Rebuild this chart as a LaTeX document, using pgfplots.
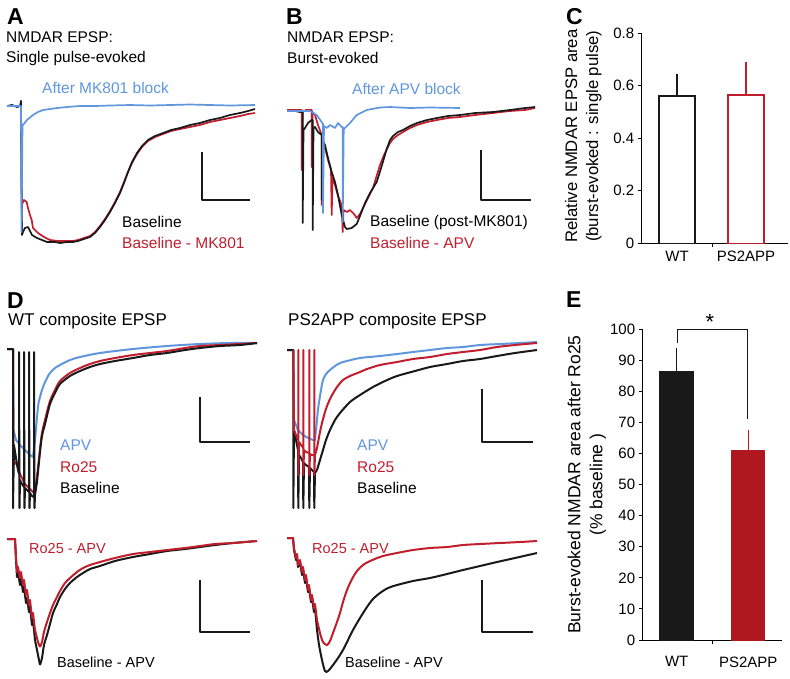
\documentclass[border=0pt]{standalone}
\usepackage{pgfplots}
\pgfplotsset{compat=1.18}
\usepackage{fontspec}
\setmainfont{Liberation Sans}
\definecolor{tblue}{RGB}{95,150,222}
\definecolor{tred}{RGB}{192,30,45}
\definecolor{tblk}{RGB}{25,25,25}
\definecolor{ered}{RGB}{175,24,30}
\newcommand{\lab}{\fontsize{15.5}{19}\selectfont}
\newcommand{\labd}{\fontsize{15.5}{18}\selectfont}
\newcommand{\labs}{\fontsize{14.5}{17}\selectfont}
\begin{document}
\begin{tikzpicture}
\useasboundingbox (0,0) rectangle (790pt,-679pt);
% ---------------- trace canvas (pixel-like units) ----------------
\begin{axis}[at={(0pt,0pt)}, anchor=north west, x=1pt, y=1pt, y dir=reverse,
  xmin=0, xmax=790, ymin=0, ymax=679, hide axis, clip=false,
  every axis plot/.append style={line width=1.7pt, line join=round}]
% ===== Panel A =====
\addplot[tred] coordinates {(7,106)(20,106)(21,101)(21.7,208)(22.5,203)(24,200)(26.7,202)(28,208)(30,215)(31.7,220)(33,228)(38,233)(44,237)(50,240)(58,241)(67,241)(73,241)(78,240)(84,238)(90,236)(95,232)(100,226)(105,219)(110,211)(115,202)(120,192)(124,182)(128,172)(132,163)(137,154)(142,147)(148,141)(155,137)(163,134)(171,131)(180,129)(190,127)(200,125)(210,122)(220,120)(230,118)(240,116)(248,114)(255,113)};
\addplot[tblk] coordinates {(7,106)(12,105)(17,107)(20.5,106)(21,101)(22,235)(23,232)(25,228)(28,227)(30,231)(32,235)(37,238)(42,240)(47,242)(55,242)(60,243)(67,242)(73,242)(78,241)(84,239)(90,237)(95,233)(100,227)(105,220)(110,212)(115,203)(120,193)(124,183)(128,172)(132,162)(137,153)(142,146)(148,140)(155,136)(163,133)(171,130)(180,128)(190,125)(200,123)(210,120)(220,118)(230,115)(240,113)(248,111)(255,109)};
\addplot[tblue] coordinates {(7,106)(20,106)(21,106)(21.5,232)(22.5,125)(23,125)(27,120)(33,115)(38,112)(43,110)(50,109)(57,108)(67,107)(80,106)(95,106)(110,105.5)(130,105)(150,105.5)(170,105)(190,104.5)(210,105)(230,105.5)(255,105)};
\addplot[tblk] coordinates {(201.7,151.7)(201.7,200)(250,200)};
% ===== Panel B =====
\addplot[tred] coordinates {(287,110)(300,110)(301.7,110)(301.7,170)(302.5,112)(306,110)(310,110)(311.7,110)(311.7,167)(312.5,112)(315,115)(318,125)(321.7,135)(321.7,205)(322.5,140)(325,148)(328,160)(331,170)(331.7,215)(332.5,178)(335,185)(338,196)(341.7,205)(342.7,232)(343.5,210)(347,212)(350,210)(354,214)(356.7,218)(360,214)(364,206)(367,200)(370,194)(373,188)(376,178)(380,165)(384,155)(387,149)(390,143)(393,139)(398,135)(403,132)(410,128)(417,125)(427,122)(437,120)(448,118)(460,117)(475,115)(493,113)(510,111)(525,110)(535,108)};
\addplot[tblk] coordinates {(287,111)(295,111)(300,112)(302.7,112)(302.7,223)(303.5,130)(305,128)(308,123)(311.7,120)(312.7,120)(312.7,230)(313.5,128)(315,127)(318,132)(321.7,135)(321.7,200)(322.5,140)(325,145)(328,158)(331.7,172)(335,182)(338,195)(341.7,215)(345,227)(346.7,229)(351.7,228)(356.7,224)(360,216)(365,203)(370,193)(376.7,182)(381.7,166)(386.7,149)(390,140)(393,136)(398,132)(403,130)(410,126)(417,123)(427,120)(437,118)(448,116)(460,115)(475,113)(493,112)(510,110)(525,108)(535,107)};
\addplot[tblue] coordinates {(287,111)(300,111)(310,111)(316.7,115)(321.7,122)(323,124)(323,213)(324,126)(326.7,128)(330,125)(335,128)(338,123)(341.7,127)(342.7,127)(342.7,222)(343.7,129)(345,128)(350,123)(356.7,115)(366.7,110)(380,107.5)(390,107)(410,108)(430,107.5)(460,108)};
\addplot[tblk] coordinates {(480.7,150)(480.7,200)(530.7,200)};
% ===== Panel D =====
\begin{scope}[every axis plot/.append style={line width=2pt}]
% WT top
\addplot[tblue] coordinates {(7,349)(13,349)(13.5,430)(16,440)(20,445)(25,450)(30,455)(33,457)(35,440)};
\addplot[tblue, smooth] coordinates {(35,440)(38,407)(40,397)(43,387)(47,378)(50,373)(55,368)(60,365)(70,360)(80,357)(100,353)(133,349)(167,346)(200,344)(230,343)(257,343)};
\addplot[tred] coordinates {(7,349)(13,349)(13.5,465)(16,462)(20,474)(25,484)(30,489)(34,493)(36,484)};
\addplot[tred, smooth] coordinates {(36,484)(38,468)(40,449)(42,433)(45,420)(50,401)(55,390)(60,381)(70,373)(80,368)(90,364)(100,361)(115,358)(133,355)(150,353)(167,351)(185,348)(200,346)(220,345)(240,344)(257,343)};
\addplot[tblk] coordinates {(7,349)(13,349)(13,508)(14,445)(16,458)(18,470)(19,474)(19,352)(19.5,508)(20,480)(22,484)(24,487)(24,352)(24.5,508)(25,488)(27,490)(29,492)(29,352)(29.5,508)(30,493)(32,496)(34,497)(34,352)(34.5,508)(35,495)(37,482)};
\addplot[tblk, smooth] coordinates {(37,482)(40,452)(42,436)(45,424)(50,404)(55,393)(60,384)(70,376)(80,371)(90,367)(100,364)(115,361)(133,358)(150,355)(167,353)(185,350)(200,348)(220,346)(240,345)(257,343)};
% PS2APP top
\addplot[tblue] coordinates {(287,350)(293.3,350)(294,420)(298,430)(303,435)(308,438)(313,440)(315,440)(317,420)};
\addplot[tblue, smooth] coordinates {(317,420)(318.3,407)(321,390)(323,380)(326,374)(330,370)(335,366)(340,363)(347,361)(360,358)(380,356)(397,354)(413,352)(430,350)(447,348)(463,347)(480,345)(500,344)(520,343)(537,342)};
\addplot[tblk] coordinates {(287,350)(293.3,350)(293.3,508)(294,430)(296,440)(298,450)(298.3,508)(299,455)(301,458)(303,462)(303.3,508)(304,463)(306,465)(309,467)(309.3,508)(310,468)(312,470)(314,472)(314.3,508)(315,473)(317,470)};
\addplot[tblk, smooth] coordinates {(317,470)(320,460)(323,450)(326,440)(330,430)(335,420)(340,413)(350,402)(360,395)(373,387)(385,381)(397,376)(415,371)(430,367)(447,364)(463,361)(480,359)(497,356)(515,353)(537,350)};
\addplot[tred] coordinates {(293.3,350)(294,430)(296,435)(298.3,440)(298.3,350)(298.3,475)(299,442)(301,445)(303.3,448)(303.3,350)(303.3,475)(304,450)(306,452)(309.3,453)(309.3,350)(309.3,475)(310,454)(312,455)(314.3,455)(314.3,350)(314.3,475)(315,455)(317,448)};
\addplot[tred, smooth] coordinates {(317,448)(320,432)(322,423)(325,412)(327,406)(331,397)(337,387)(343,380)(350,376)(360,372)(367,369)(380,365)(397,362)(413,359)(430,357)(447,354)(463,352)(480,350)(497,347)(515,345)(537,343)};
% WT bottom
\addplot[tblk] coordinates {(7,539)(15,539)(16,560)(17,577)(18,572)(20,585)(21,578)(23,592)(24,587)(26,603)(27,598)(29,612)(30,607)(32,625)(33,620)(35,640)(38,655)(40,665)};
\addplot[tblk, smooth] coordinates {(40,665)(42,658)(44,645)(47,635)(50,624)(53,613)(57,604)(60,597)(65,589)(70,583)(77,577)(83,573)(90,569)(100,566)(115,561)(133,557)(150,554)(167,551)(185,549)(200,547)(215,545)(233,543)(245,542)(257,541)};
\addplot[tred] coordinates {(7,539)(15,539)(16,557)(17,572)(18,567)(20,578)(21,572)(23,585)(24,580)(26,595)(27,590)(29,605)(30,600)(32,618)(33,613)(35,630)(38,642)(40,647)};
\addplot[tred, smooth] coordinates {(40,647)(42,642)(44,632)(47,622)(50,613)(53,605)(57,597)(60,591)(65,583)(70,578)(77,572)(83,568)(90,565)(100,562)(115,558)(133,554)(150,552)(167,550)(185,548)(200,546)(215,544)(233,543)(245,542)(257,541)};
% PS2APP bottom
\addplot[tblk] coordinates {(287,538)(293,538)(294,550)(296,560)(297,556)(298,567)(300,562)(302,575)(303,570)(305,583)(306,578)(308,592)(309,588)(311,602)(312,598)(314,612)(315,608)(317,630)(319,645)};
\addplot[tblk, smooth] coordinates {(319,645)(322,660)(325,671)(328,671)(333,665)(338,658)(343,650)(348,640)(353,630)(360,618)(367,607)(373,599)(380,593)(388,588)(397,585)(413,581)(430,578)(447,574)(463,570)(480,566)(497,562)(515,558)(537,553)};
\addplot[tred] coordinates {(287,538)(293,538)(294,548)(296,558)(297,554)(298,565)(300,560)(302,572)(303,567)(305,580)(306,575)(308,590)(309,585)(311,600)(312,595)(314,608)(315,604)(317,620)};
\addplot[tred, smooth] coordinates {(317,620)(320,633)(323,642)(327,645)(330,641)(333,633)(337,622)(340,613)(343,602)(347,590)(352,579)(357,571)(363,565)(370,561)(383,556)(397,553)(413,550)(430,548)(447,547)(463,545)(480,544)(500,543)(520,542)(537,541)};
\end{scope}
% scale bars D
\addplot[tblk] coordinates {(200,397)(200,442)(250,442)};
\addplot[tblk] coordinates {(482.3,389)(482.3,442)(533,442)};
\addplot[tblk] coordinates {(200,580)(200,632)(250,632)};
\addplot[tblk] coordinates {(482.3,580)(482.3,632)(533,632)};
% ===== texts =====
\begin{scope}[every node/.style={inner sep=0pt, anchor=west}]
\node[font=\bfseries\fontsize{23}{26}\selectfont] at (axis cs:7,17) {A};
\node[font=\bfseries\fontsize{23}{26}\selectfont] at (axis cs:286,17) {B};
\node[font=\bfseries\fontsize{23}{26}\selectfont] at (axis cs:566,17) {C};
\node[font=\bfseries\fontsize{23}{26}\selectfont] at (axis cs:7,301) {D};
\node[font=\bfseries\fontsize{23}{26}\selectfont] at (axis cs:566,300) {E};
\node[font=\lab] at (axis cs:6,37) {NMDAR EPSP:};
\node[font=\lab] at (axis cs:6,58) {Single pulse-evoked};
\node[font=\lab, text=tblue] at (axis cs:42,88) {After MK801 block};
\node[font=\lab] at (axis cs:122,222) {Baseline};
\node[font=\lab, text=tred] at (axis cs:122,243) {Baseline - MK801};
\node[font=\lab] at (axis cs:287,37) {NMDAR EPSP:};
\node[font=\lab] at (axis cs:287,58) {Burst-evoked};
\node[font=\lab, text=tblue] at (axis cs:352,89) {After APV block};
\node[font=\lab] at (axis cs:370,222) {Baseline (post-MK801)};
\node[font=\lab, text=tred] at (axis cs:370,243) {Baseline - APV};
\node[font=\fontsize{17}{20}\selectfont] at (axis cs:8,321) {WT composite EPSP};
\node[font=\fontsize{17}{20}\selectfont] at (axis cs:288,321) {PS2APP composite EPSP};
\node[font=\labd, text=tblue] at (axis cs:60,445) {APV};
\node[font=\labd, text=tred] at (axis cs:60,467) {Ro25};
\node[font=\labd] at (axis cs:60,488) {Baseline};
\node[font=\labd, text=tblue] at (axis cs:357,445) {APV};
\node[font=\labd, text=tred] at (axis cs:357,467) {Ro25};
\node[font=\labd] at (axis cs:357,488) {Baseline};
\node[font=\labs, text=tred] at (axis cs:29,548) {Ro25 - APV};
\node[font=\labs] at (axis cs:57,662) {Baseline - APV};
\node[font=\labs, text=tred] at (axis cs:312,548) {Ro25 - APV};
\node[font=\labs] at (axis cs:345,662) {Baseline - APV};
\end{scope}
\end{axis}
% ---------------- Panel C ----------------
\begin{axis}[at={(641.7pt,-243.3pt)}, anchor=south west, x=34.4pt, y=262.5pt,
  xmin=0, xmax=4.25, ymin=0, ymax=0.8, clip=false,
  axis x line*=bottom, axis y line*=left, axis line style={line width=1pt},
  tick style={line width=1pt, black}, tick align=outside, major tick length=4pt,
  ytick={0,0.2,0.4,0.6,0.8}, yticklabels={0,0.2,0.4,0.6,0.8},
  xtick={2.05}, xticklabels={},
  extra x ticks={1.03,3.03}, extra x tick labels={WT,PS2APP},
  extra x tick style={major tick length=0pt},
  ticklabel style={font=\fontsize{15}{18}\selectfont},
  xticklabel style={yshift=-4pt},
  ylabel={Relative NMDAR EPSP area\\(burst-evoked : single pulse)},
  ylabel style={at={(axis description cs:-0.40,0.51)}, anchor=center, align=center, font=\fontsize{16.7}{21}\selectfont},
  ]
\addplot[ybar, bar width=36pt, bar shift=0pt, draw=tblk, fill=white, line width=1.5pt,
  error bars/.cd, y dir=plus, y explicit, error bar style={line width=1.5pt, tblk},
  error mark options={line width=1.5pt, mark size=3pt, tblk}]
  coordinates {(1.03,0.562) +- (0,0.073)};
\addplot[ybar, bar width=36pt, bar shift=0pt, draw=tred, fill=white, line width=1.5pt,
  error bars/.cd, y dir=plus, y explicit, error bar style={line width=1.5pt, tred},
  error mark options={line width=1.5pt, mark size=3pt, tred}]
  coordinates {(3.03,0.564) +- (0,0.115)};
\end{axis}
% ---------------- Panel E ----------------
\begin{axis}[at={(642.7pt,-640pt)}, anchor=south west, x=35.8pt, y=3.107pt,
  xmin=0, xmax=3.9, ymin=0, ymax=100, clip=false,
  axis x line*=bottom, axis y line*=left, axis line style={line width=1pt},
  tick style={line width=1pt, black}, tick align=outside, major tick length=4pt,
  ytick={0,10,...,100}, /pgf/number format/assume math mode=true,
  xtick={1.95}, xticklabels={},
  extra x ticks={0.95,2.95}, extra x tick labels={WT,PS2APP},
  extra x tick style={major tick length=0pt},
  ticklabel style={font=\fontsize{15}{18}\selectfont},
  xticklabel style={yshift=-13pt},
  ylabel={Burst-evoked NMDAR area after Ro25\\(\% baseline )},
  ylabel style={at={(axis description cs:-0.40,0.5)}, anchor=center, align=center, font=\fontsize{17.5}{22}\selectfont},
  ]
\addplot[ybar, bar width=34pt, bar shift=0pt, draw=tblk, fill=tblk, line width=1pt,
  error bars/.cd, y dir=plus, y explicit, error bar style={line width=1.5pt, tblk},
  error mark options={line width=1.5pt, mark size=3pt, tblk}]
  coordinates {(0.95,86.4) +- (0,6.7)};
\addplot[ybar, bar width=33pt, bar shift=0pt, draw=ered, fill=ered, line width=1pt,
  error bars/.cd, y dir=plus, y explicit, error bar style={line width=1.5pt, ered},
  error mark options={line width=1.5pt, mark size=3pt, ered}]
  coordinates {(2.95,60.9) +- (0,5.8)};
\addplot[tblk, line width=1.3pt] coordinates {(0.97,95.7)(0.97,100)(2.92,100)(2.92,71)};
\node[font=\fontsize{22}{24}\selectfont, inner sep=0pt] at (axis cs:1.88,102.5) {*};
\end{axis}
\end{tikzpicture}
\end{document}
